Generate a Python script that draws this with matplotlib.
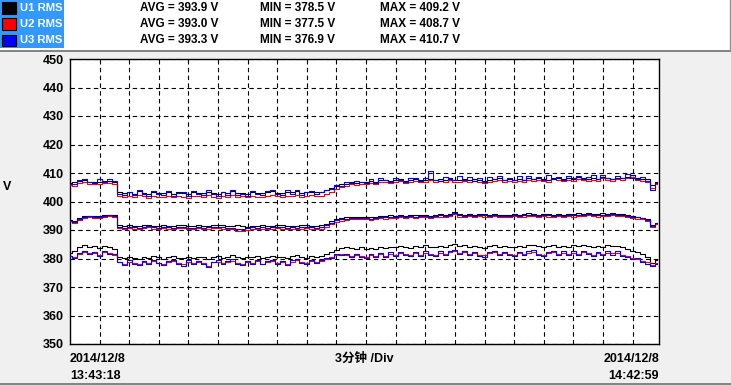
import numpy as np
import matplotlib
matplotlib.use("Agg")
import matplotlib.pyplot as plt
from matplotlib.patches import Rectangle
from matplotlib.lines import Line2D

# ---------------- data ----------------
start_label = ["2014/12/8", "13:43:18"]
end_label = ["2014/12/8", "14:42:59"]
span_min = 59.68          # 13:43:18 -> 14:42:59
sample_min = 0.5          # one reading every 30 s
div_label = "3分钟 /Div"

series_names = ["U1 RMS", "U2 RMS", "U3 RMS"]
series_colors = ["#000000", "#ff0000", "#0000ff"]
stat_avg = ["393.9", "393.0", "393.3"]
stat_min = ["378.5", "377.5", "376.9"]
stat_max = ["409.2", "408.7", "410.7"]

y_ticks = [350, 360, 370, 380, 390, 400, 410, 420, 430, 440, 450]

u1_max = [406.5, 406.9, 407.2, 407.5, 406.9, 407.0, 406.8, 407.3, 407.1, 406.9,
          403.2, 402.9, 403.4, 402.8, 403.6, 403.0, 402.7, 403.3, 403.1, 402.9,
          403.4, 402.8, 403.2, 403.0, 402.6, 403.3, 403.1, 402.9, 403.5, 403.0,
          402.7, 403.2, 403.0, 403.6, 402.9, 403.1, 402.8, 403.4, 403.0, 402.9,
          403.3, 403.7, 403.1, 402.9, 403.4, 403.2, 403.6, 403.0, 403.3, 403.5,
          403.2, 403.4, 403.9, 404.6, 405.4, 406.0, 406.3, 406.8, 406.6, 407.0,
          406.8, 407.2, 406.9, 407.4, 407.6, 407.1, 407.5, 407.8, 407.3, 407.6,
          407.9, 407.4, 407.7, 408.0, 407.5, 407.8, 407.6, 408.1, 407.7, 407.4,
          407.8, 407.5, 407.9, 407.6, 407.3, 407.7, 407.9, 408.2, 407.6, 407.8,
          407.5, 407.9, 407.7, 408.1, 407.8, 408.3, 408.0, 407.7, 408.4, 408.1,
          407.8, 408.2, 408.0, 408.5, 408.1, 407.9, 408.3, 408.0, 408.6, 408.2,
          408.0, 408.4, 408.1, 408.7, 409.2, 408.3, 407.9, 408.0, 405.8, 406.9]

u2_max = [405.8, 405.3, 406.4, 406.9, 406.2, 406.0, 406.1, 406.5, 406.4, 406.0,
          401.9, 401.6, 402.1, 401.5, 402.3, 401.8, 401.4, 402.0, 401.7, 401.6,
          402.1, 401.5, 401.9, 401.7, 401.3, 402.0, 401.8, 401.5, 402.2, 401.7,
          401.4, 401.9, 401.6, 402.3, 401.6, 401.8, 401.5, 402.1, 401.7, 401.5,
          402.0, 402.4, 401.8, 401.6, 402.1, 401.9, 402.3, 401.7, 402.0, 402.2,
          401.9, 402.1, 402.6, 403.4, 404.3, 405.0, 405.6, 406.0, 405.8, 406.2,
          406.0, 406.5, 406.1, 406.7, 406.9, 406.4, 406.8, 407.1, 406.5, 406.9,
          407.2, 406.7, 407.0, 407.4, 406.8, 407.1, 406.9, 407.5, 407.0, 406.7,
          407.1, 406.8, 407.2, 406.9, 406.6, 407.0, 407.3, 407.6, 406.9, 407.1,
          406.8, 407.2, 407.0, 407.5, 407.1, 407.7, 407.3, 407.0, 407.8, 407.4,
          407.1, 407.6, 407.3, 408.0, 407.5, 407.2, 407.7, 407.3, 408.1, 407.6,
          407.3, 407.8, 407.4, 408.2, 408.7, 407.6, 407.2, 406.9, 404.6, 406.1]

u3_max = [406.3, 406.0, 407.6, 408.0, 406.9, 406.6, 407.8, 406.9, 407.9, 407.2,
          402.6, 402.2, 403.5, 402.4, 403.9, 402.6, 402.1, 403.6, 402.5, 402.3,
          403.8, 402.1, 402.9, 403.4, 401.9, 403.7, 402.6, 402.2, 404.0, 402.5,
          402.0, 403.5, 402.4, 403.9, 402.3, 402.8, 402.1, 403.8, 402.6, 402.2,
          403.6, 404.0, 402.5, 402.3, 403.9, 402.7, 404.1, 402.4, 403.5, 403.8,
          402.6, 403.3, 404.2, 404.5, 405.8, 405.6, 406.9, 406.4, 407.3, 406.8,
          406.4, 407.9, 406.6, 408.1, 407.4, 406.9, 408.3, 407.5, 407.0, 408.4,
          408.1, 407.3, 408.2, 410.7, 407.6, 407.2, 408.5, 407.9, 407.4, 408.9,
          407.6, 408.7, 407.3, 408.4, 407.0, 408.6, 407.9, 409.0, 407.5, 408.3,
          407.4, 408.8, 407.6, 409.1, 407.9, 408.5, 407.7, 409.3, 408.0, 408.6,
          407.7, 409.0, 408.2, 408.9, 407.8, 408.5, 409.2, 407.9, 409.4, 408.3,
          407.8, 408.9, 408.1, 409.6, 408.4, 408.0, 408.7, 407.2, 403.9, 406.4]

u1_avg = [393.6, 393.1, 394.2, 394.9, 395.0, 394.8, 394.9, 395.3, 395.4, 395.1,
          391.6, 391.4, 391.7, 391.5, 391.3, 391.6, 391.8, 391.5, 391.4, 391.7,
          391.5, 391.3, 391.6, 391.8, 391.5, 391.4, 391.6, 391.3, 391.5, 391.7,
          391.8, 391.6, 391.4, 391.5, 391.7, 391.4, 391.2, 391.5, 391.3, 391.6,
          391.4, 391.5, 391.7, 391.6, 391.3, 391.5, 391.4, 391.6, 391.8, 391.5,
          391.4, 391.6, 392.2, 393.0, 393.8, 394.2, 394.4, 394.6, 394.5, 394.7,
          394.6, 394.4, 394.7, 394.9, 394.8, 395.1, 394.9, 395.2, 395.0, 395.3,
          395.1, 395.4, 395.2, 395.0, 395.3, 395.5, 395.2, 395.6, 396.3, 395.5,
          395.3, 395.6, 395.4, 395.7, 395.5, 395.3, 395.6, 395.4, 395.2, 395.4,
          395.6, 395.3, 395.5, 395.8, 395.6, 395.4, 395.7, 395.5, 395.3, 395.6,
          395.4, 395.7, 395.5, 395.8, 395.6, 395.9, 395.7, 395.5, 395.8, 395.6,
          395.9, 395.7, 395.6, 395.4, 395.0, 394.6, 394.2, 393.8, 391.6, 392.6]

u2_avg = [393.0, 392.4, 393.5, 394.2, 394.5, 394.3, 394.2, 394.6, 394.8, 394.5,
          390.6, 390.4, 390.8, 390.5, 390.3, 390.7, 390.9, 390.5, 390.4, 390.6,
          390.5, 390.2, 390.6, 390.8, 390.4, 390.3, 390.6, 390.2, 390.4, 390.7,
          390.8, 390.5, 390.3, 390.4, 389.6, 389.8, 390.1, 390.4, 390.2, 390.5,
          390.3, 390.4, 390.6, 390.5, 390.2, 390.4, 390.3, 390.5, 390.7, 390.4,
          390.3, 390.5, 391.2, 392.1, 392.9, 393.3, 393.6, 393.8, 393.7, 393.9,
          393.8, 393.6, 393.9, 394.1, 394.0, 394.3, 394.1, 394.4, 394.2, 394.5,
          394.3, 394.6, 394.4, 394.2, 394.5, 394.7, 394.4, 394.8, 395.5, 394.7,
          394.5, 394.8, 394.6, 394.9, 394.7, 394.5, 394.8, 394.6, 394.4, 394.6,
          394.8, 394.5, 394.7, 395.0, 394.8, 394.6, 394.9, 394.7, 394.5, 394.8,
          394.6, 394.9, 394.7, 395.0, 394.8, 395.1, 394.9, 394.7, 395.0, 394.8,
          395.1, 394.9, 394.8, 394.6, 394.3, 394.0, 393.7, 393.2, 390.9, 392.0]

u3_avg = [393.3, 392.7, 393.9, 394.6, 394.8, 394.5, 394.6, 395.0, 395.1, 394.8,
          391.0, 390.8, 391.2, 390.9, 390.7, 391.1, 391.3, 390.9, 390.8, 391.1,
          390.9, 390.6, 391.0, 391.2, 390.8, 390.7, 391.0, 390.6, 390.9, 391.1,
          391.2, 390.9, 390.7, 390.8, 390.2, 390.4, 390.6, 390.9, 390.7, 391.0,
          390.8, 390.9, 391.1, 391.0, 390.6, 390.9, 390.8, 391.0, 391.2, 390.9,
          390.8, 391.0, 391.7, 392.6, 393.4, 393.8, 394.0, 394.2, 394.1, 394.3,
          394.2, 394.0, 394.3, 394.5, 394.4, 394.7, 394.5, 394.8, 394.6, 394.9,
          394.7, 395.0, 394.8, 394.6, 394.9, 395.1, 394.8, 395.2, 395.9, 395.1,
          394.9, 395.2, 395.0, 395.3, 395.1, 394.9, 395.2, 395.0, 394.8, 395.0,
          395.2, 394.9, 395.1, 395.4, 395.2, 395.0, 395.3, 395.1, 394.9, 395.2,
          395.0, 395.3, 395.1, 395.4, 395.2, 395.5, 395.3, 395.1, 395.4, 395.2,
          395.5, 395.3, 395.2, 395.0, 394.7, 394.4, 394.1, 393.6, 391.3, 392.4]

u1_min = [381.9, 382.6, 384.1, 384.8, 383.9, 384.3, 383.6, 384.5, 384.0, 383.4,
          380.4, 380.1, 380.7, 380.3, 379.9, 380.6, 380.2, 380.8, 380.4, 380.0,
          380.5, 380.9, 380.3, 380.1, 380.6, 380.2, 380.7, 380.4, 379.9, 380.5,
          380.8, 380.3, 380.6, 381.3, 380.5, 380.2, 380.7, 380.4, 380.9, 380.3,
          380.6, 381.0, 380.4, 380.7, 380.2, 380.8, 381.4, 380.5, 380.3, 380.9,
          380.6, 380.8, 381.5, 382.4, 383.1, 383.8, 384.2, 383.6, 383.3, 383.9,
          383.5, 383.8, 383.4, 384.0, 383.7, 384.2, 383.9, 384.4, 384.1, 383.8,
          384.3, 384.0, 384.6, 384.2, 383.9, 384.5, 384.1, 384.8, 385.0, 384.3,
          384.6, 384.2, 384.5, 384.0, 383.8, 384.3, 384.6, 384.1, 384.4, 384.2,
          384.0, 384.5, 384.1, 384.6, 384.9, 384.3, 384.0, 384.4, 384.7, 384.2,
          384.5, 384.1, 384.6, 384.3, 384.8, 384.4, 384.1, 384.5, 384.2, 384.6,
          384.3, 384.5, 384.0, 383.4, 382.8, 382.2, 381.6, 380.4, 378.5, 379.6]

u2_min = [380.8, 380.4, 381.6, 382.2, 381.8, 382.0, 381.4, 382.3, 381.9, 381.2,
          378.6, 378.2, 378.9, 378.4, 377.9, 378.7, 378.3, 379.0, 378.5, 378.1,
          378.7, 379.1, 378.4, 378.0, 378.8, 378.3, 378.9, 378.5, 377.5, 378.6,
          378.9, 378.3, 378.7, 379.2, 378.5, 378.1, 378.8, 378.4, 379.0, 378.2,
          378.7, 379.1, 378.5, 378.8, 378.0, 378.9, 379.4, 378.6, 378.3, 379.0,
          378.8, 379.1, 379.8, 380.6, 381.2, 381.6, 381.1, 380.8, 381.3, 380.9,
          380.6, 381.2, 380.8, 381.5, 381.0, 381.7, 381.3, 382.0, 381.5, 381.2,
          381.8, 381.4, 382.1, 381.6, 381.3, 382.0, 381.5, 382.3, 382.6, 381.9,
          382.2, 381.6, 382.0, 381.4, 381.1, 381.8, 382.2, 381.5, 381.9, 381.6,
          381.3, 381.9, 381.5, 382.1, 382.4, 381.7, 381.3, 381.8, 382.2, 381.6,
          382.0, 381.5, 382.1, 381.7, 382.3, 381.9, 381.4, 381.9, 381.6, 382.1,
          381.8, 382.0, 381.4, 380.9, 380.3, 379.8, 379.2, 378.6, 377.7, 378.4]

u3_min = [380.9, 380.1, 381.9, 382.6, 381.5, 382.4, 381.0, 382.8, 381.7, 381.5,
          378.9, 377.8, 379.3, 378.1, 377.6, 379.2, 378.0, 379.4, 378.3, 377.7,
          379.1, 379.5, 378.1, 377.4, 379.3, 378.0, 379.2, 378.2, 376.9, 378.9,
          379.3, 378.0, 379.0, 379.7, 378.2, 377.7, 379.1, 378.1, 379.4, 377.9,
          379.0, 379.6, 378.2, 379.2, 377.6, 379.3, 379.8, 378.3, 378.0, 379.4,
          378.5, 379.4, 380.2, 380.3, 381.6, 381.2, 381.5, 380.5, 381.7, 380.6,
          380.3, 381.6, 380.4, 381.9, 380.7, 382.2, 381.0, 382.4, 381.1, 380.8,
          382.3, 381.0, 382.6, 381.2, 380.9, 382.5, 381.1, 382.8, 383.1, 381.5,
          382.7, 381.2, 382.4, 381.0, 380.6, 382.3, 382.7, 381.1, 382.4, 381.2,
          380.9, 382.4, 381.1, 382.6, 382.9, 381.3, 380.8, 382.3, 382.7, 381.2,
          382.5, 381.1, 382.6, 381.3, 382.8, 381.5, 380.9, 382.4, 381.2, 382.6,
          381.4, 382.5, 381.0, 380.4, 379.8, 380.3, 378.8, 378.2, 377.3, 378.1]

traces = [
    (u1_max, u1_avg, u1_min),
    (u2_max, u2_avg, u2_min),
    (u3_max, u3_avg, u3_min),
]

# ---------------- figure ----------------
W, H = 731, 385
fig = plt.figure(figsize=(W / 100, H / 100), dpi=100)
fig.patch.set_facecolor("#f0f0f0")

def fx(px):
    return px / W

def fy(py):
    return 1 - py / H

TXT = ["Liberation Sans", "Noto Sans CJK SC", "DejaVu Sans"]

# header panel
fig.patches.append(Rectangle((0, fy(50)), fx(730), 50 / H, transform=fig.transFigure,
                             facecolor="white", edgecolor="none", zorder=0))
fig.lines.append(Line2D([0, fx(730)], [fy(50.5), fy(50.5)], transform=fig.transFigure,
                        color="#707070", lw=1.2))
fig.lines.append(Line2D([fx(730), fx(730)], [fy(0), fy(50.5)], transform=fig.transFigure,
                        color="#909090", lw=1.0))
# bottom frame line
fig.lines.append(Line2D([0, 1], [fy(383.5), fy(383.5)], transform=fig.transFigure,
                        color="#707070", lw=1.2))

row_y = [8, 24, 40]
for k in range(3):
    yc = row_y[k]
    fig.patches.append(Rectangle((fx(0), fy(yc + 8)), fx(64), 16 / H,
                                 transform=fig.transFigure, facecolor="#3399ff",
                                 edgecolor="none", zorder=1))
    fig.patches.append(Rectangle((fx(1.5), fy(yc + 5.5)), fx(14), 11 / H,
                                 transform=fig.transFigure, facecolor=series_colors[k],
                                 edgecolor="black", lw=0.8, zorder=2))
    fig.text(fx(20), fy(yc), series_names[k], color="white", fontsize=8.1,
             fontweight="bold", va="center", ha="left", family=TXT, zorder=3)
    fig.text(fx(140), fy(yc), f"AVG = {stat_avg[k]} V", color="black", fontsize=8.5,
             fontweight="bold", va="center", ha="left", family=TXT)
    fig.text(fx(260), fy(yc), f"MIN = {stat_min[k]} V", color="black", fontsize=8.5,
             fontweight="bold", va="center", ha="left", family=TXT)
    fig.text(fx(380), fy(yc), f"MAX = {stat_max[k]} V", color="black", fontsize=8.5,
             fontweight="bold", va="center", ha="left", family=TXT)

# plot area
ax = fig.add_axes([fx(70), fy(344), fx(659) - fx(70), (344 - 59) / H])
ax.set_facecolor("white")

t = np.arange(len(u1_max)) * sample_min
for k in range(3):
    for arr in traces[k]:
        ax.plot(t, arr, color=series_colors[k], lw=0.8, zorder=3 + k,
                drawstyle="steps-mid")

ax.set_xlim(0, span_min)
ax.set_ylim(350, 450)
ax.set_yticks(y_ticks)
ax.set_yticklabels([str(v) for v in y_ticks], fontsize=9, fontweight="bold", family=TXT)
ax.set_xticks(np.arange(3, span_min, 3))
ax.set_xticklabels([])
ax.tick_params(axis="both", length=0, pad=4.5)
ax.grid(True, color="black", lw=0.8, linestyle=(0, (4, 3)))
for s in ax.spines.values():
    s.set_color("black")
    s.set_linewidth(1.0)

fig.text(fx(3), fy(187), "V", fontsize=9, fontweight="bold", va="center", ha="left", family=TXT)

fig.text(fx(70), fy(359), start_label[0], fontsize=9, fontweight="bold", va="center",
         ha="left", family=TXT)
fig.text(fx(70), fy(376), start_label[1], fontsize=9, fontweight="bold", va="center",
         ha="left", family=TXT)
fig.text(fx(659), fy(359), end_label[0], fontsize=9, fontweight="bold", va="center",
         ha="right", family=TXT)
fig.text(fx(659), fy(376), end_label[1], fontsize=9, fontweight="bold", va="center",
         ha="right", family=TXT)
fig.text(fx(364.5), fy(359), div_label, fontsize=9, fontweight="bold", va="center",
         ha="center", family=TXT)

fig.savefig("out.png", dpi=100, facecolor=fig.get_facecolor())
